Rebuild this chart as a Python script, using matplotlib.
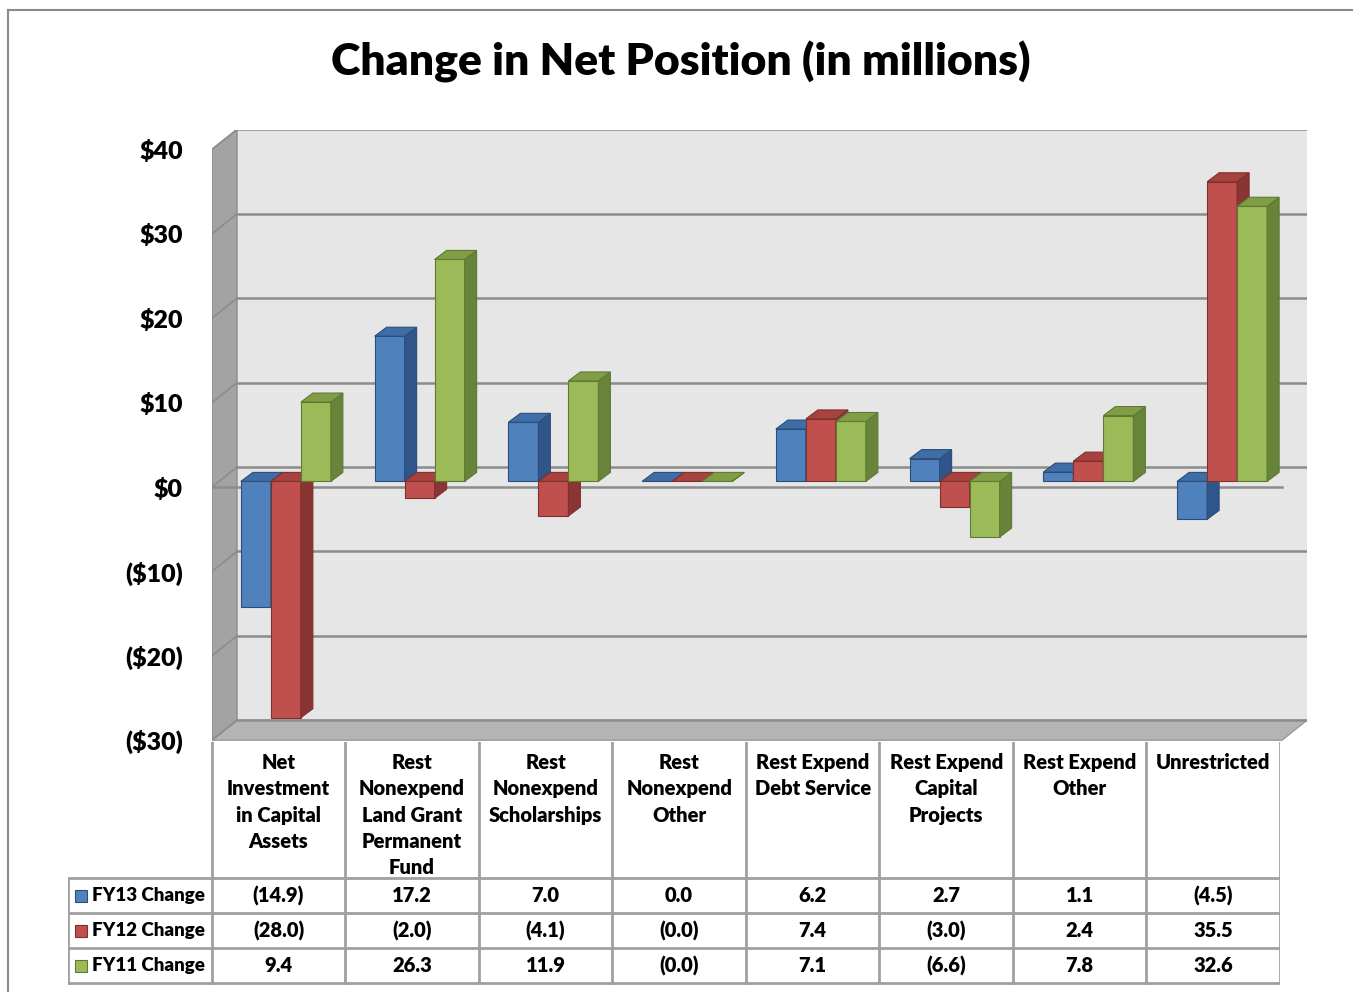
import numpy as np
import matplotlib
matplotlib.use("Agg")
import matplotlib.pyplot as plt
from matplotlib.patches import Polygon, Rectangle
from matplotlib.lines import Line2D

# ---------------- données ----------------
categories = ["Net\nInvestment\nin Capital\nAssets",
              "Rest\nNonexpend\nLand Grant\nPermanent\nFund",
              "Rest\nNonexpend\nScholarships",
              "Rest\nNonexpend\nOther",
              "Rest Expend\nDebt Service",
              "Rest Expend\nCapital\nProjects",
              "Rest Expend\nOther",
              "Unrestricted"]
series_names = ["FY13 Change", "FY12 Change", "FY11 Change"]
fy13 = [-14.9, 17.2, 7.0, 0.0, 6.2, 2.7, 1.1, -4.5]
fy12 = [-28.0, -2.0, -4.1, -0.01, 7.4, -3.0, 2.4, 35.5]
fy11 = [9.4, 26.3, 11.9, -0.01, 7.1, -6.6, 7.8, 32.6]
yticks = [-30, -20, -10, 0, 10, 20, 30, 40]
title = "Change in Net Position (in millions)"

series = [fy13, fy12, fy11]
face_cols = ["#4F81BD", "#C0504D", "#9BBB59"]
top_cols = ["#3F6DA6", "#A8423F", "#819E47"]
side_cols = ["#30558A", "#8A3533", "#67843A"]
edge_cols = ["#2C4D7A", "#7E302E", "#5E7A33"]

FONT = ["Lato", "DejaVu Sans"]
plt.rcParams['font.family'] = FONT
WT = "heavy"

W, H = 1353, 992
fig = plt.figure(figsize=(W / 100, H / 100), dpi=100)

# cadre extérieur
fig.add_artist(Line2D([8 / W, 8 / W], [0, 1 - 10 / H], color="#8a8a8a", lw=1.5))
fig.add_artist(Line2D([8 / W, 1], [1 - 10 / H, 1 - 10 / H], color="#8a8a8a", lw=1.5))

fig.text(681 / W, 1 - 62 / H, title, ha="center", va="center",
         fontsize=32, fontweight=WT, color="#000000")

# ---------------- graphique pseudo 3D ----------------
PXX = 133.75   # px par catégorie
PXY = 8.44     # px par unité
x0, x1, ytop, ybot = 212, 1307, 130, 742
ax = fig.add_axes([x0 / W, 1 - ybot / H, (x1 - x0) / W, (ybot - ytop) / H])
ax.set_xlim(-0.5, -0.5 + (x1 - x0) / PXX)
ax.set_ylim((487 - ybot) / PXY, (487 - ytop) / PXY)
for s in ax.spines.values():
    s.set_visible(False)
ax.set_xticks([])
ax.set_facecolor("none")

DX, DY = 25 / PXX, 20 / PXY      # profondeur des murs
ymin, ymax = yticks[0], yticks[-1]
n = len(fy13)
xl, xr = -0.5, n - 0.5

# mur du fond
ax.add_patch(Polygon([(xl + DX, ymin + DY), (xr + DX, ymin + DY), (xr + DX, ymax + DY), (xl + DX, ymax + DY)],
                     closed=True, facecolor="#e6e6e6", edgecolor="none", zorder=0))
# mur gauche
ax.add_patch(Polygon([(xl, ymin), (xl, ymax), (xl + DX, ymax + DY), (xl + DX, ymin + DY)],
                     closed=True, facecolor="#a3a3a3", edgecolor="#8c8c8c", lw=1, zorder=1))
# sol
ax.add_patch(Polygon([(xl, ymin), (xr, ymin), (xr + DX, ymin + DY), (xl + DX, ymin + DY)],
                     closed=True, facecolor="#b4b4b4", edgecolor="#9a9a9a", lw=1, zorder=1))
for t in yticks:
    ax.plot([xl + DX, xr + DX], [t + DY, t + DY], color="#8c8c8c", lw=1.8, zorder=2)
    ax.plot([xl, xl + DX], [t, t + DY], color="#8c8c8c", lw=1.2, zorder=2)
# ligne du zéro
ax.plot([xl, xr], [0, 0], color="#8c8c8c", lw=1.8, zorder=2)

# barres
BW = 30 / PXX
FX, FY = 7 / PXX, 5.6 / PXY      # décalage de la face avant
SX, SY = 12 / PXX, 9.0 / PXY     # profondeur des barres
z = 3
for i in range(n):
    for j, vals in enumerate(series):
        v = vals[i]
        left = i + FX - 1.5 * BW + j * BW
        ax.bar(left, v, width=BW, bottom=FY, align="edge", color=face_cols[j],
               edgecolor=edge_cols[j], lw=0.8, zorder=z)
        lo, hi = FY + min(v, 0), FY + max(v, 0)
        r = left + BW
        ax.add_patch(Polygon([(r, lo), (r + SX, lo + SY), (r + SX, hi + SY), (r, hi)],
                             closed=True, facecolor=side_cols[j], edgecolor=edge_cols[j], lw=0.8, zorder=z))
        ax.add_patch(Polygon([(left, hi), (r, hi), (r + SX, hi + SY), (left + SX, hi + SY)],
                             closed=True, facecolor=top_cols[j], edgecolor=edge_cols[j], lw=0.8, zorder=z))
        z += 1

def fmt_money(t):
    if t < 0:
        return "(${:d})".format(-t)
    return "${:d}".format(t)

ax.set_yticks(yticks)
ax.set_yticklabels([fmt_money(t) for t in yticks], fontsize=18, fontweight=WT)
ax.tick_params(axis="y", length=0, pad=21)

# ---------------- tableau de données ----------------
tx0, ty0, ty1 = 68, 742, 985
tax = fig.add_axes([tx0 / W, 1 - ty1 / H, (1280 - tx0) / W, (ty1 - ty0) / H])
tax.set_xlim(-0.5 - (212 - tx0) / PXX, n - 0.5)
tax.set_ylim(ty1 - ty0, 0)
tax.axis("off")
lc = "#a0a0a0"
hb = 878 - ty0
rows = [hb, 913 - ty0, 948 - ty0, 983 - ty0]
xlab = -0.5 - (212 - tx0) / PXX
for k in range(n + 1):
    tax.plot([k - 0.5, k - 0.5], [0, rows[-1]], color=lc, lw=2, zorder=1)
for yy in rows:
    tax.plot([xlab, n - 0.5], [yy, yy], color=lc, lw=2, zorder=1)
tax.plot([xlab, xlab], [hb, rows[-1]], color=lc, lw=2, zorder=1)

for i, c in enumerate(categories):
    tax.text(i, 11, c, ha="center", va="top", fontsize=14.5, fontweight=WT,
             linespacing=1.46)

def fmt_val(v):
    if v < 0:
        return "({:.1f})".format(abs(v))
    return "{:.1f}".format(v)

for j, vals in enumerate(series):
    yc = (rows[j] + rows[j + 1]) / 2
    tax.add_patch(Rectangle((xlab + 7 / PXX, yc - 6), 12 / PXX, 12, facecolor=face_cols[j],
                            edgecolor=edge_cols[j], lw=0.8, zorder=2))
    tax.text(xlab + 24 / PXX, yc, series_names[j], ha="left", va="center",
             fontsize=13.5, fontweight=WT)
    for i, v in enumerate(vals):
        tax.text(i, yc, fmt_val(v), ha="center", va="center", fontsize=14.5, fontweight=WT)

fig.savefig("out.png", dpi=100)
